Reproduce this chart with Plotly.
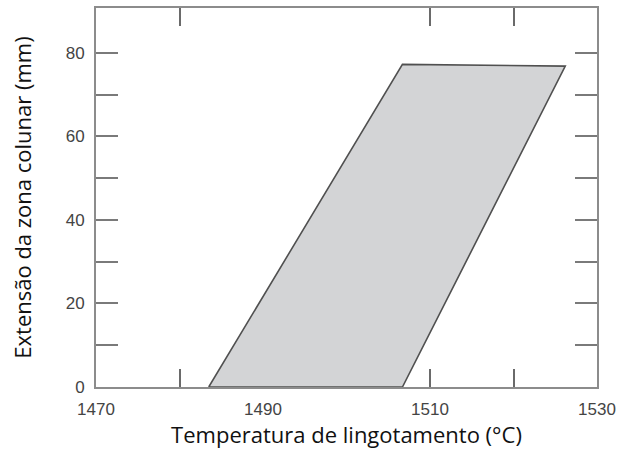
import plotly.graph_objects as go

# Polygon (temperature °C, columnar zone length mm)
poly_temp = [1483.5, 1506.7, 1526.2, 1506.7, 1483.5]
poly_len = [0, 0, 76.8, 77.2, 0]

x_tick_marks = [1480, 1510, 1520]
x_label_vals = [1470, 1490, 1510, 1530]
x_label_text = ["1470", "1490", "1510", "1530"]
y_tick_vals = [0, 10, 20, 30, 40, 50, 60, 70, 80]
y_tick_text = ["0", "", "20", "", "40", "", "60", "", "80"]

fig = go.Figure()
fig.add_trace(go.Scatter(
    x=poly_temp, y=poly_len, mode="lines", fill="toself",
    fillcolor="#d3d4d6", line=dict(color="#505050", width=1.6),
    hoverinfo="skip", showlegend=False))
fig.add_trace(go.Scatter(
    x=[x_label_vals[0]], y=[0], xaxis="x2", mode="markers",
    marker=dict(opacity=0), hoverinfo="skip", showlegend=False))

axis_col = "#8c8c8c"
tick_font = dict(family="Liberation Sans", size=17, color="#444")
title_font = dict(family="Open Sans", size=22, color="#111")
fig.update_layout(
    width=629, height=455,
    margin=dict(l=96, r=32, t=6, b=68),
    paper_bgcolor="white", plot_bgcolor="white",
    xaxis=dict(range=[1470, 1530], tickvals=x_tick_marks, showticklabels=False,
               ticks="inside", ticklen=18, tickwidth=2, tickcolor="#6a6a6a",
               showline=True, linecolor=axis_col, linewidth=2, mirror="ticks",
               showgrid=False, zeroline=False),
    xaxis2=dict(range=[1470, 1530], overlaying="x", side="bottom", anchor="y",
                tickvals=x_label_vals, ticktext=x_label_text, ticks="",
                ticklabelstandoff=10,
                showline=False, showgrid=False, zeroline=False,
                tickfont=tick_font,
                title=dict(text="Temperatura de lingotamento (°C)",
                           font=title_font, standoff=6)),
    yaxis=dict(range=[0, 90.7], tickvals=y_tick_vals, ticktext=y_tick_text,
               ticks="inside", ticklen=22, tickwidth=2, tickcolor="#7a7a7a",
               showline=True, linecolor=axis_col, linewidth=2, mirror="ticks",
               showgrid=False, zeroline=False,
               tickfont=tick_font, ticklabelstandoff=6,
               title=dict(text="Extensão da zona colunar (mm)",
                          font=title_font, standoff=28)),
)
fig.write_html("out.html")
